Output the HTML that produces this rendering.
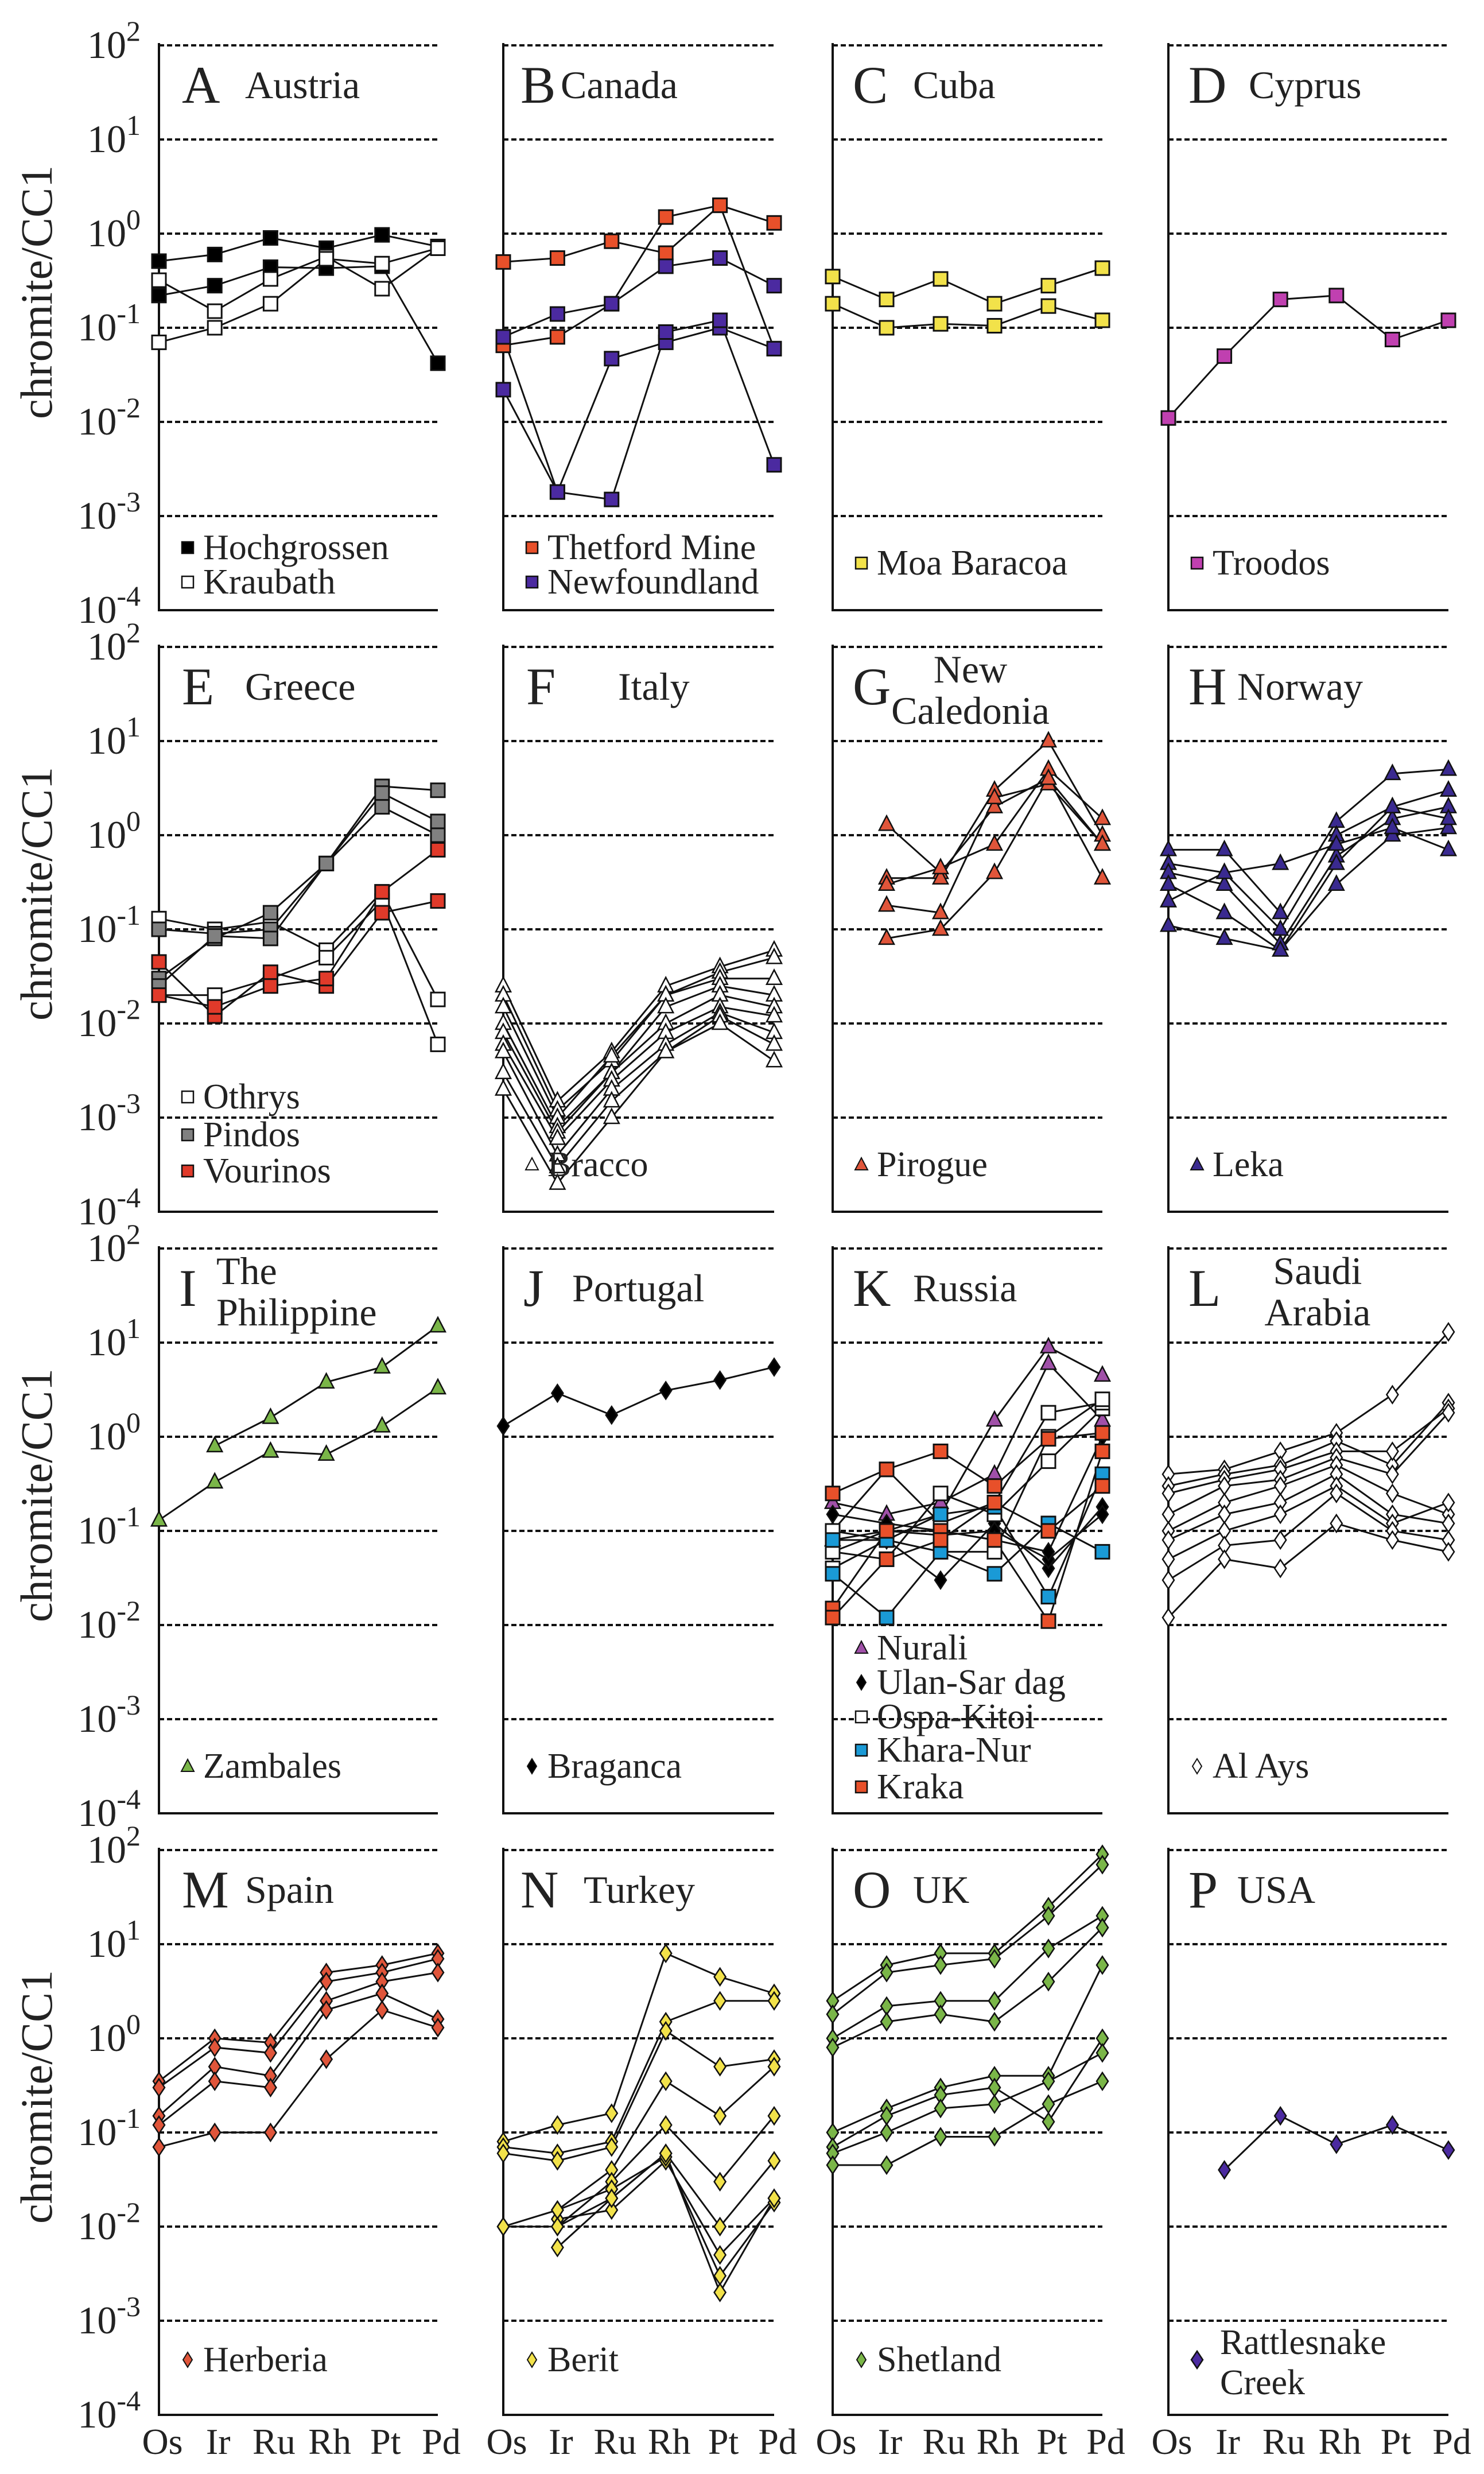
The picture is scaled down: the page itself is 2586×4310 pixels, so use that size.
<!DOCTYPE html>
<html><head><meta charset="utf-8">
<style>
html,body{margin:0;padding:0;background:#fff;}
svg{display:block;font-family:"Liberation Serif",serif;}
</style></head>
<body>
<svg id="chart" width="2586" height="4310" viewBox="0 0 2586 4310" xmlns="http://www.w3.org/2000/svg"></svg>
<script>
// ---- data ----
const elements = ["Os","Ir","Ru","Rh","Pt","Pd"];
const yTickExps = [2,1,0,-1,-2,-3,-4];
// A Austria
const austriaHochgrossen = [[0.51,0.6,0.9,0.7,0.97,0.73],[0.22,0.28,0.44,0.43,0.45,0.042]];
const austriaKraubath = [[0.32,0.15,0.33,0.57,0.26,0.7],[0.07,0.1,0.18,0.54,0.48,0.7]];
// B Canada
const canadaThetford = [[0.5,0.55,0.83,0.62,2.0,0.06],[0.065,0.08,0.18,1.5,2.0,1.3]];
const canadaNewfoundland = [[0.08,0.14,0.18,0.45,0.55,0.28],[0.022,0.0018,0.047,0.07,0.1,0.06],[0.08,0.0018,0.0015,0.09,0.12,0.0035]];
// C Cuba
const cubaMoa = [[0.35,0.2,0.33,0.18,0.28,0.43],[0.18,0.1,0.11,0.105,0.17,0.12]];
// D Cyprus
const cyprusTroodos = [[0.011,0.05,0.2,0.22,0.075,0.12]];
// E Greece
const greeceOthrys = [[0.13,0.1,0.12,0.06,0.25,0.018],[0.02,0.02,0.03,0.05,0.2,0.006]];
const greecePindos = [[0.1,0.09,0.1,0.5,3.3,3.0],[0.03,0.08,0.15,0.5,2.8,1.4],[0.025,0.085,0.08,0.5,2.0,1.0]];
const greeceVourinos = [[0.045,0.012,0.035,0.025,0.15,0.2],[0.02,0.015,0.025,0.03,0.25,0.7]];
// F Italy
const italyBracco = [[0.025,0.0015,0.005,0.025,0.04,0.06],[0.02,0.0012,0.004,0.02,0.035,0.05],[0.015,0.001,0.0045,0.02,0.03,0.03],[0.01,0.0008,0.003,0.015,0.025,0.02],[0.008,0.0007,0.003,0.01,0.02,0.015],[0.006,0.0006,0.0025,0.008,0.015,0.012],[0.005,0.0004,0.002,0.006,0.013,0.008],[0.003,0.0003,0.0015,0.005,0.012,0.006],[0.002,0.0002,0.001,0.005,0.01,0.004]];
// G New Caledonia
const caledoniaPirogue = [[null,1.3,0.4,2.0,4,0.8],[null,0.35,0.35,3,10,1.0],[null,0.3,0.45,0.8,5,1.5],[null,0.18,0.15,2.5,3.5,0.8],[null,0.08,0.1,0.4,4,0.35]];
// H Norway
const norwayLeka = [[0.7,0.7,0.15,1.4,4.5,5],[0.5,0.4,0.1,1.0,2.0,3],[0.4,0.3,0.07,0.6,1.5,2],[0.3,0.15,0.06,0.3,1.0,1.2],[0.2,0.4,0.5,0.8,1.2,0.7],[0.11,0.08,0.06,0.5,2,1.5]];
// I Philippines
const philippinesZambales = [[0.13,0.33,0.7,0.65,1.3,3.3],[null,0.8,1.6,3.8,5.5,15]];
// J Portugal
const portugalBraganca = [[1.3,2.9,1.7,3.1,4,5.5]];
// K Russia
const russiaNurali = [[0.08,0.1,0.15,1.5,9,4.5],[0.2,0.15,0.2,0.4,6,1.5]];
const russiaUlan = [[0.1,0.08,0.03,0.12,0.04,0.18],[0.06,0.1,0.09,0.1,0.05,0.15],[0.15,0.12,0.1,0.08,0.06,1.0]];
const russiaOspa = [[0.06,0.05,0.25,0.15,0.55,2.0],[0.1,0.45,0.12,0.2,1.8,2.3],[0.04,0.08,0.06,0.06,1.0,2.5]];
const russiaKhara = [[0.035,0.012,0.06,0.035,0.12,0.06],[0.08,0.08,0.15,0.18,0.02,0.4]];
const russiaKraka = [[0.25,0.45,0.7,0.3,0.95,1.1],[0.015,0.1,0.1,0.08,0.011,0.7],[0.012,0.05,0.08,0.2,0.1,0.3]];
// L Saudi Arabia
const saudiAlAys = [[0.4,0.45,0.7,1.1,2.8,13],[0.3,0.4,0.5,0.9,0.5,2.3],[0.25,0.35,0.45,0.7,0.7,2.0],[0.15,0.3,0.35,0.6,0.4,1.8],[0.1,0.2,0.3,0.5,0.25,0.15],[0.08,0.15,0.2,0.4,0.15,0.12],[0.05,0.1,0.15,0.3,0.12,0.2],[0.03,0.07,0.08,0.25,0.1,0.08],[0.012,0.05,0.04,0.12,0.08,0.06]];
// M Spain
const spainHerberia = [[0.35,1.0,0.9,5,6,8],[0.3,0.8,0.7,4,5,7],[0.15,0.5,0.4,2.5,4,5],[0.12,0.35,0.3,2,3,1.6],[0.07,0.1,0.1,0.6,2,1.3]];
// N Turkey
const turkeyBerit = [[0.08,0.12,0.16,8,4.5,3],[0.07,0.06,0.08,1.5,2.5,2.5],[0.06,0.05,0.07,1.2,0.5,0.6],[0.01,0.015,0.04,0.35,0.15,0.5],[0.01,0.01,0.03,0.12,0.03,0.15],[null,0.006,0.02,0.06,0.01,0.05],[null,0.012,0.015,0.05,0.005,0.02],[null,0.015,0.025,0.055,0.003,0.018],[null,0.01,0.02,0.06,0.002,0.02]];
// O UK
const ukShetland = [[2.5,6,8,8,25,90],[1.8,5,6,7,20,70],[1.0,2.2,2.5,2.5,9,20],[0.8,1.5,1.8,1.5,4,15],[0.1,0.18,0.3,0.4,0.4,6],[0.07,0.15,0.25,0.3,0.13,1.0],[0.06,0.1,0.18,0.2,0.35,0.7],[0.045,0.045,0.09,0.09,0.2,0.35]];
// P USA
const usaRattlesnake = [[null,0.04,0.15,0.075,0.12,0.065]];

// ---- layout ----
const colX = [277,877,1451,2036];
const colW = [486,472,470,488];
const rowTop0 = 79, rowStep = 1048, decade = 164;
const NS = "http://www.w3.org/2000/svg";
const svg = document.getElementById('chart');
function mk(tag, attrs, parent){const e=document.createElementNS(NS,tag);for(const k in attrs)e.setAttribute(k,attrs[k]);(parent||svg).appendChild(e);return e;}
function yScale(row,v){return rowTop0+row*rowStep+(2-Math.log10(v))*decade;}
function xScale(col,i){return colX[col]+i*colW[col]/5;}

function marker(g,shape,x,y,fill){
  let e;
  if(shape==='s'){e=mk('rect',{x:x-12,y:y-12,width:24,height:24,fill:fill,stroke:'#111','stroke-width':3},g);}
  else if(shape==='t'){e=mk('polygon',{points:`${x},${y-15} ${x+13},${y+10} ${x-13},${y+10}`,fill:fill,stroke:'#111','stroke-width':2.5},g);}
  else {e=mk('polygon',{points:`${x},${y-15} ${x+10},${y} ${x},${y+15} ${x-10},${y}`,fill:fill,stroke:'#111','stroke-width':2.5},g);}
  return e;
}

const panels = [
 {row:0,col:0,letter:'A',title:['Austria'],lx:40,tx:150,groups:[[austriaHochgrossen,'s','#000','Hochgrossen'],[austriaKraubath,'s','#fff','Kraubath']]},
 {row:0,col:1,letter:'B',title:['Canada'],lx:30,tx:100,groups:[[canadaThetford,'s','#e8502a','Thetford Mine'],[canadaNewfoundland,'s','#4b2aa0','Newfoundland']]},
 {row:0,col:2,letter:'C',title:['Cuba'],lx:35,tx:140,groups:[[cubaMoa,'s','#f2e24a','Moa Baracoa']]},
 {row:0,col:3,letter:'D',title:['Cyprus'],lx:35,tx:140,groups:[[cyprusTroodos,'s','#c040b0','Troodos']]},
 {row:1,col:0,letter:'E',title:['Greece'],lx:40,tx:150,groups:[[greeceOthrys,'s','#fff','Othrys'],[greecePindos,'s','#808080','Pindos'],[greeceVourinos,'s','#e03a2a','Vourinos']]},
 {row:1,col:1,letter:'F',title:['Italy'],lx:40,tx:200,groups:[[italyBracco,'t','#fff','Bracco']]},
 {row:1,col:2,letter:'G',title:['New','Caledonia'],lx:35,tx:240,center:true,groups:[[caledoniaPirogue,'t','#e0553a','Pirogue']]},
 {row:1,col:3,letter:'H',title:['Norway'],lx:35,tx:120,groups:[[norwayLeka,'t','#3a2a90','Leka']]},
 {row:2,col:0,letter:'I',title:['The','Philippine'],lx:35,tx:100,groups:[[philippinesZambales,'t','#7ab648','Zambales']]},
 {row:2,col:1,letter:'J',title:['Portugal'],lx:35,tx:120,groups:[[portugalBraganca,'d','#000','Braganca']]},
 {row:2,col:2,letter:'K',title:['Russia'],lx:35,tx:140,groups:[[russiaNurali,'t','#a050a8','Nurali'],[russiaUlan,'d','#000','Ulan-Sar dag'],[russiaOspa,'s','#fff','Ospa-Kitoi'],[russiaKhara,'s','#1a9ad6','Khara-Nur'],[russiaKraka,'s','#e8502a','Kraka']]},
 {row:2,col:3,letter:'L',title:['Saudi','Arabia'],lx:35,tx:260,center:true,groups:[[saudiAlAys,'d','#fff','Al Ays']]},
 {row:3,col:0,letter:'M',title:['Spain'],lx:40,tx:150,groups:[[spainHerberia,'d','#e0553a','Herberia']]},
 {row:3,col:1,letter:'N',title:['Turkey'],lx:30,tx:140,groups:[[turkeyBerit,'d','#f2e24a','Berit']]},
 {row:3,col:2,letter:'O',title:['UK'],lx:35,tx:140,groups:[[ukShetland,'d','#7ab648','Shetland']]},
 {row:3,col:3,letter:'P',title:['USA'],lx:35,tx:120,groups:[[usaRattlesnake,'d','#4b2aa0','Rattlesnake Creek']]}
];

// y-axis labels & titles per row
for(let r=0;r<4;r++){
  yTickExps.forEach(ex=>{
    const y=yScale(r,Math.pow(10,ex));
    const t=mk('text',{x:245,y:y+22,'text-anchor':'end','font-size':68,fill:'#222'});
    
    
    t.appendChild(document.createTextNode('10'));
    const sp=mk('tspan',{dy:-30,'font-size':50},t);sp.textContent=(ex<0?'-':'')+Math.abs(ex);
  });
  const cy=rowTop0+r*rowStep+430;
  const yt=mk('text',{x:0,y:0,transform:`translate(90,${cy}) rotate(-90)`,'text-anchor':'middle','font-size':78,fill:'#222'});
  
  
  yt.textContent='chromite/CC1';
}
// x labels
for(let c=0;c<4;c++){
  elements.forEach((el,i)=>{
    const t=mk('text',{x:xScale(c,i)+6,y:4275,'text-anchor':'middle','font-size':64,fill:'#222'});
    
    
    t.textContent=el;
  });
}

panels.forEach(p=>{
  const g=mk('g',{});
  
  
  const x0=colX[p.col], x1=x0+colW[p.col];
  // grid
  yTickExps.slice(0,6).forEach(ex=>{
    const y=yScale(p.row,Math.pow(10,ex));
    const l=mk('line',{x1:x0,x2:x1,y1:y,y2:y,stroke:'#111','stroke-width':4,'stroke-dasharray':'9 5'},g);
    
    
  });
  const yb=yScale(p.row,1e-4), yt=yScale(p.row,100);
  const ax=mk('path',{d:`M${x0},${yt-4} L${x0},${yb} L${x1},${yb}`,fill:'none',stroke:'#111','stroke-width':4},g);
  
  
  // title
  const lt=mk('text',{x:x0+p.lx,y:yt+100,'font-size':92,fill:'#222'},g);
  
  
  lt.textContent=p.letter;
  p.title.forEach((s,k)=>{
    const tt=mk('text',{x:x0+p.tx,y:yt+(p.title.length>1?62:92)+k*72,'font-size':68,fill:'#222','text-anchor':p.center?'middle':'start'},g);
    
    
    tt.textContent=s;
  });
  // series
  p.groups.forEach(([series,shape,fill])=>{
    series.forEach(vals=>{
      let d='';
      vals.forEach((v,i)=>{ if(v==null) return; d+=(d?'L':'M')+xScale(p.col,i)+','+yScale(p.row,v); });
      const pl=mk('path',{d:d,fill:'none',stroke:'#111','stroke-width':3},g);
      
      
    });
  });
  p.groups.forEach(([series,shape,fill])=>{
    series.forEach(vals=>{
      vals.forEach((v,i)=>{ if(v==null) return;
        const m=marker(g,shape,xScale(p.col,i),yScale(p.row,v),fill);
        
        
      });
    });
  });
  // legend
  const n=p.groups.length;
  let ly;
  if(p.letter==='K') ly=[yt+696,yt+756,yt+816,yt+874,yt+938];
  else if(p.row===1&&n===3) ly=[yt+784,yt+850,yt+913];
  else if(n===2) ly=[yt+875,yt+935];
  else ly=[p.row===3?yt+888:yt+902];
  p.groups.forEach(([series,shape,fill,name],k)=>{
    const lg=mk('g',{},g);
    
    
    const mx=x0+50, my=ly[k];
    if(name==='Rattlesnake Creek'){
      marker(lg,shape,mx,my,fill);
      const t1=mk('text',{x:x0+90,y:my-10,'font-size':62,fill:'#222'},lg);t1.textContent='Rattlesnake';
      const t2=mk('text',{x:x0+90,y:my+60,'font-size':62,fill:'#222'},lg);t2.textContent='Creek';
      return;
    }
    if(shape==='s') mk('rect',{x:mx-10,y:my-10,width:20,height:20,fill:fill,stroke:'#111','stroke-width':2.5},lg);
    else if(shape==='t') mk('polygon',{points:`${mx},${my-12} ${mx+11},${my+9} ${mx-11},${my+9}`,fill:fill,stroke:'#111','stroke-width':2},lg);
    else mk('polygon',{points:`${mx},${my-13} ${mx+8},${my} ${mx},${my+13} ${mx-8},${my}`,fill:fill,stroke:'#111','stroke-width':2},lg);
    const t=mk('text',{x:mx+27,y:my+20,'font-size':62,fill:'#222'},lg);
    t.textContent=name;
  });
});
</script>
</body></html>
